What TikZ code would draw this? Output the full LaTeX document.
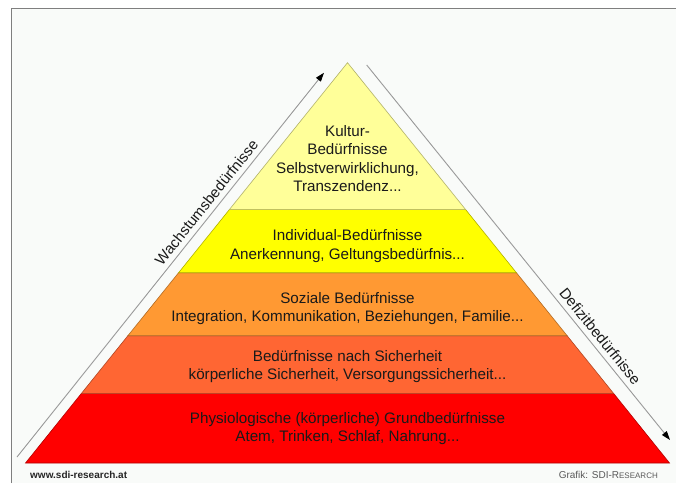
\documentclass[tikz,border=0pt]{standalone}
\usepackage{fontspec}
\setmainfont{Liberation Sans}
\usetikzlibrary{arrows.meta}
\definecolor{bgc}{HTML}{F9FBF9}
\definecolor{frame}{HTML}{7F7F7F}
\definecolor{lyellow}{HTML}{FFFF99}
\definecolor{yel}{HTML}{FFFF00}
\definecolor{org}{HTML}{FF9933}
\definecolor{ored}{HTML}{FF6633}
\definecolor{rd}{HTML}{FF0000}
\definecolor{txt}{HTML}{1A1A1A}
\tikzset{
  layer/.style={fill=#1, draw=#1!70!black, line width=0.6pt, line join=miter},
  lbl/.style={font=\fontsize{15.2}{18.5}\selectfont, text=txt, align=center, inner sep=0pt},
  side/.style={draw=gray!80, line width=0.9pt, -{Triangle[length=9pt,width=6pt,color=black]}},
  sidelbl/.style={font=\fontsize{15}{18}\selectfont, text=txt, sloped, above, inner sep=5pt},
}
\begin{document}
\begin{tikzpicture}[x=1pt,y=-1pt]
\useasboundingbox (0,0) rectangle (676,483);
\fill[white] (0,0) rectangle (676,483);
\fill[bgc] (11.3,8.3) rectangle (676,483);
\draw[frame, line width=1.6pt] (11.3,483) -- (11.3,8.3) -- (676,8.3);
% layers
\path[layer=rd] (25.5,463) -- (81.5,393.3) -- (613.5,393.3) -- (669.5,463) -- cycle;
\path[layer=ored] (81.5,393.3) -- (127.9,335.7) -- (567.1,335.7) -- (613.5,393.3) -- cycle;
\path[layer=org] (127.9,335.7) -- (178.6,272.7) -- (516.4,272.7) -- (567.1,335.7) -- cycle;
\path[layer=yel] (178.6,272.7) -- (229.6,209.3) -- (465.4,209.3) -- (516.4,272.7) -- cycle;
\path[layer=lyellow] (229.6,209.3) -- (347.5,62.7) -- (465.4,209.3) -- cycle;
% texts
\node[lbl] (kultur) at (347.5,158.5) {Kultur-\\Bedürfnisse\\Selbstverwirklichung,\\Transzendenz...};
\node[lbl] (indiv) at (347.5,246) {Individual-Bedürfnisse\\Anerkennung, Geltungsbedürfnis...};
\node[lbl] (sozial) at (347.5,308.5) {Soziale Bedürfnisse\\Integration, Kommunikation, Beziehungen, Familie...};
\node[lbl] (sicher) at (347.5,366.5) {Bedürfnisse nach Sicherheit\\körperliche Sicherheit, Versorgungssicherheit...};
\node[lbl] (physio) at (347.5,428.5) {Physiologische (körperliche) Grundbedürfnisse\\Atem, Trinken, Schlaf, Nahrung...};
% side arrows
\coordinate (ws) at (17,457);
\coordinate (we) at (324,72.7);
\coordinate (ds) at (366.7,65);
\coordinate (de) at (670,440);
\draw[side] (ws) -- node[sidelbl, pos=0.645] (wlbl) {Wachstumsbedürfnisse} (we);
\draw[side] (ds) -- node[sidelbl, pos=0.742] (dlbl) {Defizitbedürfnisse} (de);
% footer
\node[anchor=west, inner sep=0pt, font=\bfseries\fontsize{10}{12}\selectfont, text=black!85] (url) at (30,474.5) {www.sdi-research.at};
\node[anchor=east, inner sep=0pt, font=\fontsize{10}{12}\selectfont, text=black!65] (credit) at (658,474.5) {Grafik: SDI-R{\fontsize{8}{10}\selectfont ESEARCH}};
\end{tikzpicture}
\end{document}
